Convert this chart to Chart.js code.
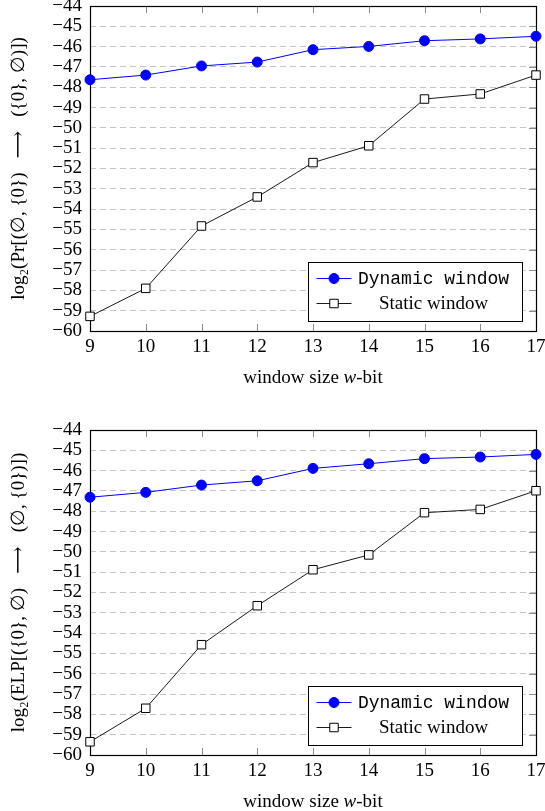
<!DOCTYPE html>
<html>
<head>
<meta charset="utf-8">
<script src="https://cdn.jsdelivr.net/npm/chart.js@4/dist/chart.umd.min.js"></script>
<style>
  html, body { margin: 0; padding: 0; background: #fff; }
  #wrap { position: relative; width: 545px; height: 811px; overflow: hidden; background: #fff; }
  canvas { position: absolute; left: 0; }
  #c1 { top: -24px; }
  #c2 { top: 400px; }
</style>
</head>
<body>
<div id="wrap">
  <canvas id="c1" width="570" height="420"></canvas>
  <canvas id="c2" width="570" height="420"></canvas>
</div>
<script>
// ---- data ----
const windowSizes = [9, 10, 11, 12, 13, 14, 15, 16, 17];
const prDynamic  = [-47.63, -47.40, -46.95, -46.76, -46.15, -45.99, -45.71, -45.62, -45.49];
const prStatic   = [-59.28, -57.90, -54.83, -53.40, -51.71, -50.88, -48.58, -48.33, -47.40];
const elpDynamic = [-47.31, -47.07, -46.71, -46.50, -45.89, -45.66, -45.41, -45.33, -45.20];
const elpStatic  = [-59.35, -57.70, -54.57, -52.65, -50.88, -50.15, -48.07, -47.91, -46.99];
const seriesNames = ['Dynamic window', 'Static window'];
const yTitleTop = 'log\u2082(Pr[(\u2205, {0})   \u27F6   ({0}, \u2205)])';
const yTitleBottom = 'log\u2082(ELP[({0}, \u2205)   \u27F6   (\u2205, {0})])';
const xTitleParts = ['window size ', 'w', '-bit'];
const yMin = -60, yMax = -44;
const xMin = 9, xMax = 17;

const SERIF = "'Liberation Serif', 'DejaVu Serif', serif";
const MONO = "'Liberation Mono', 'DejaVu Sans Mono', monospace";

const framePlugin = {
  id: 'frame',
  beforeDatasetsDraw(chart) {
    const {ctx, chartArea: a, scales} = chart;
    ctx.save();
    ctx.strokeStyle = '#8c8c8c';
    ctx.lineWidth = 1;
    const tl = 7;
    scales.x.ticks.forEach(t => {
      const px = Math.round(scales.x.getPixelForValue(t.value)) + 0.5;
      ctx.beginPath();
      ctx.moveTo(px, a.bottom); ctx.lineTo(px, a.bottom - tl);
      ctx.moveTo(px, a.top); ctx.lineTo(px, a.top + tl);
      ctx.stroke();
    });
    scales.y.ticks.forEach(t => {
      const py = Math.round(scales.y.getPixelForValue(t.value)) + 0.5;
      ctx.beginPath();
      ctx.moveTo(a.right, py); ctx.lineTo(a.right - tl, py);
      ctx.stroke();
    });
    ctx.strokeStyle = '#000';
    ctx.lineWidth = 1.2;
    ctx.strokeRect(Math.round(a.left) + 0.5, Math.round(a.top) + 0.5,
                   Math.round(a.right - a.left), Math.round(a.bottom - a.top));
    ctx.restore();
  },
  afterDatasetsDraw(chart) {
    const {ctx, chartArea: a} = chart;
    ctx.save();
    const bw = 214, bh = 59;
    const bx = Math.round(a.right - 14 - bw) + 0.5;
    const by = Math.round(a.bottom - 10 - bh) + 0.5;
    ctx.fillStyle = '#fff';
    ctx.fillRect(bx, by, bw, bh);
    ctx.strokeStyle = '#000';
    ctx.lineWidth = 1;
    ctx.strokeRect(bx, by, bw, bh);
    const rows = [by + 16, by + 41];
    const sx0 = bx + 8, sx1 = bx + 43, sxm = bx + 25.5;
    const textCx = bx + 125;
    chart.data.datasets.forEach((ds, i) => {
      const y = rows[i];
      ctx.strokeStyle = ds.borderColor;
      ctx.lineWidth = ds.borderWidth;
      ctx.beginPath(); ctx.moveTo(sx0, y); ctx.lineTo(sx1, y); ctx.stroke();
      ctx.fillStyle = ds.pointBackgroundColor;
      ctx.strokeStyle = ds.pointBorderColor;
      ctx.lineWidth = ds.pointBorderWidth;
      ctx.beginPath();
      if (ds.pointStyle === 'circle') {
        ctx.arc(sxm, y, ds.pointRadius, 0, Math.PI * 2);
      } else {
        const s = Math.SQRT1_2 * ds.pointRadius;
        ctx.rect(sxm - s, y - s, 2 * s, 2 * s);
      }
      ctx.fill(); ctx.stroke();
      ctx.fillStyle = '#000';
      ctx.textAlign = 'center';
      ctx.textBaseline = 'middle';
      ctx.font = i === 0 ? '18px ' + MONO : '19px ' + SERIF;
      ctx.fillText(ds.label, textCx, y + 1);
    });
    ctx.restore();
  },
  afterDraw(chart) {
    const {ctx, chartArea: a} = chart;
    ctx.save();
    ctx.fillStyle = '#000';
    ctx.textBaseline = 'middle';
    ctx.textAlign = 'left';
    const fonts = ['19px ' + SERIF, 'italic 19px ' + SERIF, '19px ' + SERIF];
    let total = 0;
    const widths = xTitleParts.map((p, i) => { ctx.font = fonts[i]; const w = ctx.measureText(p).width; total += w; return w; });
    let x = (a.left + a.right) / 2 - total / 2;
    const y = a.bottom + 47;
    xTitleParts.forEach((p, i) => { ctx.font = fonts[i]; ctx.fillText(p, x, y); x += widths[i]; });
    ctx.restore();
  }
};

function makeChart(id, dyn, sta, yTitle) {
  const ds = (label, vals, color, style, radius, bg, bw) => ({
    label,
    data: windowSizes.map((w, i) => ({x: w, y: vals[i]})),
    borderColor: color,
    borderWidth: bw,
    pointStyle: style,
    pointRadius: radius,
    pointHoverRadius: radius,
    pointBackgroundColor: bg,
    pointBorderColor: color,
    pointBorderWidth: 1,
    backgroundColor: bg,
    tension: 0,
    clip: false
  });
  return new Chart(document.getElementById(id), {
    type: 'line',
    data: {
      datasets: [
        ds(seriesNames[0], dyn, '#0000ff', 'circle', 5, '#0000ff', 1),
        ds(seriesNames[1], sta, '#000000', 'rect', 6, '#ffffff', 0.9)
      ]
    },
    options: {
      responsive: false,
      animation: false,
      events: [],
      layout: { padding: { left: 0, right: 34, top: 30, bottom: 0 } },
      plugins: { legend: { display: false }, tooltip: { enabled: false } },
      scales: {
        x: {
          type: 'linear', min: xMin, max: xMax,
          grid: { display: false, drawTicks: false },
          border: { display: false },
          ticks: {
            stepSize: 1, padding: 5, color: '#000', autoSkip: false,
            font: { family: SERIF, size: 19 },
            maxRotation: 0
          },
          afterFit(s) { s.height = 65; }
        },
        y: {
          type: 'linear', min: yMin, max: yMax,
          grid: { color: '#c4c4c4', lineWidth: 1, drawTicks: false },
          border: { display: false, dash: [6, 4] },
          ticks: {
            stepSize: 1, padding: 8, color: '#000', autoSkip: false,
            font: { family: SERIF, size: 19 },
            callback: v => String(v).replace('-', '\u2212')
          },
          title: {
            display: true, text: yTitle, color: '#000',
            font: { family: SERIF, size: 19 },
            padding: { top: 8, bottom: 0 }
          },
          afterFit(s) { s.width = 90; }
        }
      }
    },
    plugins: [framePlugin]
  });
}

makeChart('c1', prDynamic, prStatic, yTitleTop);
makeChart('c2', elpDynamic, elpStatic, yTitleBottom);
</script>
</body>
</html>
